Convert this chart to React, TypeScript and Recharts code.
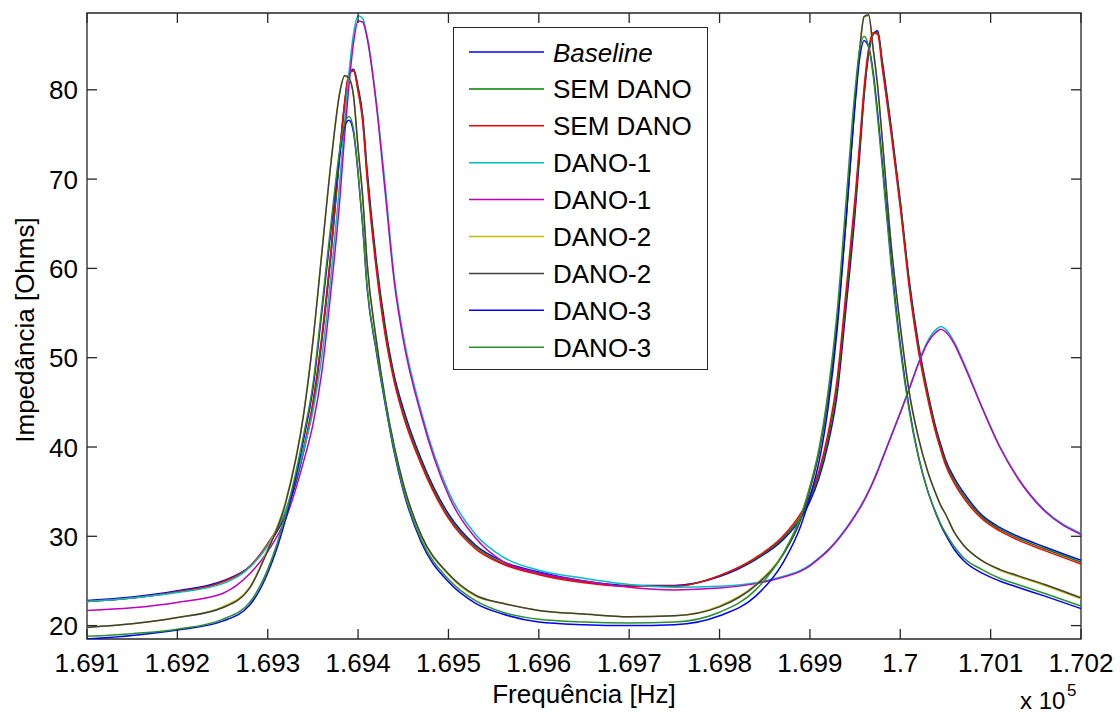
import React from 'react';
import { LineChart, Line, XAxis, YAxis, ReferenceArea, Legend } from 'recharts';

// frequency in units of 1e5 Hz, finer around the two resonances
const FREQ = [
  1.691, 1.6915, 1.692, 1.6925, 1.6928, 1.693, 1.6932, 1.6934, 1.6935, 1.6936,
  1.6937, 1.6938, 1.69385, 1.6939, 1.69395, 1.694, 1.69405, 1.6941, 1.6942, 1.6943,
  1.6944, 1.6945, 1.6947, 1.695, 1.6953, 1.6956, 1.696, 1.6965, 1.697, 1.6975,
  1.698, 1.6984, 1.6987, 1.6989, 1.699, 1.6991, 1.6992, 1.6993, 1.6994, 1.6995,
  1.69955, 1.6996, 1.69965, 1.6997, 1.69975, 1.6998, 1.6999, 1.7, 1.7001, 1.7002,
  1.7003, 1.7004, 1.70045, 1.7005, 1.7006, 1.7007, 1.7009, 1.7011, 1.7013, 1.7016,
  1.702,
];

const BASELINE = [
  22.8, 23.2, 23.9, 25.0, 26.6, 29.0, 32.5, 39.6, 44.6, 52.0,
  61.5, 73.0, 78.2, 81.7, 82.3, 80.3, 77.2, 71.0, 61.0, 53.5,
  48.0, 44.3, 38.6, 32.5, 29.0, 27.2, 26.0, 25.0, 24.5, 24.5,
  25.5, 27.4, 29.6, 32.0, 33.9, 36.5, 40.3, 45.8, 55.6, 66.2,
  72.6, 79.3, 84.0, 86.2, 86.6, 83.3, 75.8, 67.6, 58.6, 51.6,
  46.3, 41.9, 40.2, 38.6, 36.5, 34.9, 32.4, 31.0, 30.0, 28.8,
  27.3,
];
const SEM_DANO_A = [
  22.7, 23.1, 23.8, 24.9, 26.6, 29.1, 32.7, 39.8, 44.8, 52.3,
  61.8, 73.3, 78.4, 81.8, 82.2, 80.0, 76.8, 70.4, 60.5, 53.0,
  47.6, 43.8, 38.3, 32.2, 28.8, 27.0, 25.8, 24.9, 24.4, 24.4,
  25.6, 27.5, 29.8, 32.3, 34.2, 36.9, 40.9, 46.7, 56.6, 67.2,
  73.4, 79.8, 84.3, 86.3, 86.4, 82.9, 75.4, 67.2, 58.2, 51.2,
  46.0, 41.6, 39.9, 38.3, 36.2, 34.6, 32.2, 30.8, 29.8, 28.6,
  27.1,
];
const SEM_DANO_B = [
  22.7, 23.1, 23.8, 24.9, 26.6, 29.2, 32.8, 40.0, 45.0, 52.5,
  62.0, 73.5, 78.5, 81.8, 82.1, 79.8, 76.5, 70.0, 60.0, 52.5,
  47.3, 43.5, 38.0, 32.0, 28.6, 26.9, 25.7, 24.8, 24.4, 24.4,
  25.6, 27.6, 30.0, 32.6, 34.5, 37.3, 41.5, 47.5, 57.5, 68.0,
  74.0, 80.3, 84.6, 86.4, 86.2, 82.5, 75.0, 66.8, 57.8, 50.8,
  45.6, 41.3, 39.6, 38.0, 35.9, 34.3, 32.0, 30.6, 29.6, 28.4,
  26.9,
];
const DANO1_A = [
  22.7, 23.1, 23.7, 24.7, 26.5, 29.0, 33.0, 39.8, 44.0, 50.2,
  59.2, 70.0, 76.3, 82.0, 86.3, 88.3, 88.0, 86.0, 78.8, 69.3,
  59.0, 52.5, 43.9, 35.0, 30.2, 27.7, 26.2, 25.3, 24.6, 24.3,
  24.4, 24.8, 25.5, 26.2, 26.8, 27.6, 28.5, 29.6, 30.9, 32.4,
  33.2, 34.1, 35.1, 36.2, 37.4, 38.7, 41.3, 43.9, 46.6, 49.4,
  51.8, 53.2, 53.5, 53.2, 51.7, 49.5, 44.6, 40.1, 36.6, 32.9,
  30.3,
];
const DANO1_B = [
  21.7, 22.0, 22.6, 23.6, 25.8, 28.3, 32.0, 38.5, 42.5, 48.5,
  57.5, 68.0, 74.8, 80.6, 85.3, 87.7, 87.6, 85.8, 78.5, 68.5,
  58.5, 52.0, 43.5, 34.6, 29.8, 27.2, 25.9, 25.0, 24.3, 24.0,
  24.2, 24.7, 25.4, 26.1, 26.7, 27.5, 28.4, 29.5, 30.8, 32.3,
  33.1, 34.0, 35.0, 36.1, 37.3, 38.6, 41.2, 43.8, 46.5, 49.3,
  51.6, 52.9, 53.2, 52.9, 51.5, 49.3, 44.5, 40.0, 36.5, 32.8,
  30.2,
];
const DANO2_A = [
  19.8, 20.2, 20.9, 22.1, 24.3, 28.6, 34.0, 44.0, 52.0, 62.0,
  72.0, 79.9, 81.5, 81.2, 79.2, 73.3, 68.0, 60.5, 52.0, 45.3,
  40.0, 35.8, 30.0, 25.7, 23.3, 22.5, 21.7, 21.3, 21.0, 21.1,
  22.2, 24.6, 28.0, 32.0, 35.3, 39.5, 45.5, 54.0, 65.5, 79.0,
  84.5, 88.2, 88.3, 84.5, 80.3, 74.5, 62.5, 53.5, 46.0, 41.0,
  37.3, 34.6, 33.4, 32.5, 30.4, 29.0, 27.3, 26.2, 25.5, 24.5,
  23.0,
];
const DANO2_B = [
  19.8, 20.2, 20.9, 22.0, 24.2, 28.4, 33.8, 43.8, 51.8, 61.8,
  71.8, 79.8, 81.6, 81.3, 79.3, 73.5, 68.2, 60.6, 52.1, 45.4,
  40.1, 35.9, 30.1, 25.8, 23.4, 22.5, 21.7, 21.3, 21.0, 21.1,
  22.1, 24.5, 27.9, 31.9, 35.2, 39.3, 45.3, 53.8, 65.3, 78.8,
  84.4, 88.2, 88.4, 84.6, 80.4, 74.6, 62.6, 53.6, 46.1, 41.1,
  37.4, 34.6, 33.4, 32.5, 30.4, 29.0, 27.3, 26.3, 25.6, 24.6,
  23.1,
];
const DANO3_A = [
  18.5, 18.9, 19.5, 20.5, 22.3, 25.9, 32.0, 41.0, 46.5, 55.2,
  64.3, 73.0, 75.9, 76.6, 75.2, 70.6, 64.8, 57.8, 50.8, 44.8,
  39.4, 35.1, 29.3, 24.9, 22.5, 21.3, 20.4, 20.1, 20.0, 20.1,
  21.1, 23.3, 27.0, 31.2, 34.4, 38.3, 44.3, 53.0, 65.5, 78.3,
  83.5, 85.5, 84.8, 82.0, 77.4, 72.0, 60.8, 51.5, 44.3, 39.0,
  35.2, 32.4, 31.2, 30.2, 28.5, 27.3, 25.9, 25.0, 24.3, 23.3,
  21.9,
];
const DANO3_B = [
  18.8, 19.1, 19.6, 20.7, 22.6, 26.3, 32.5, 41.5, 47.0, 55.8,
  65.0, 73.5, 76.2, 77.0, 75.5, 70.8, 65.0, 58.0, 51.0, 45.0,
  39.6, 35.3, 29.6, 25.2, 22.8, 21.5, 20.7, 20.4, 20.3, 20.4,
  21.5, 24.0, 28.0, 32.3, 35.6, 39.8, 46.1, 55.0, 67.5, 80.0,
  84.5, 86.0, 84.8, 81.6, 76.8, 71.4, 60.2, 51.0, 44.0, 38.9,
  35.2, 32.5, 31.3, 30.4, 28.8, 27.6, 26.3, 25.3, 24.6, 23.6,
  22.2,
];

const X_TICKS = [1.691, 1.692, 1.693, 1.694, 1.695, 1.696, 1.697, 1.698, 1.699, 1.7, 1.701, 1.702];
const Y_TICKS = [20, 30, 40, 50, 60, 70, 80];

const SERIES = [
  { key: 'baseline', name: 'Baseline', color: '#0000ff', values: BASELINE, italic: true },
  { key: 'semDanoA', name: 'SEM DANO', color: '#008000', values: SEM_DANO_A },
  { key: 'semDanoB', name: 'SEM DANO', color: '#ff0000', values: SEM_DANO_B },
  { key: 'dano1A', name: 'DANO-1', color: '#00bfbf', values: DANO1_A },
  { key: 'dano1B', name: 'DANO-1', color: '#bf00bf', values: DANO1_B },
  { key: 'dano2A', name: 'DANO-2', color: '#bfbf00', values: DANO2_A },
  { key: 'dano2B', name: 'DANO-2', color: '#404040', values: DANO2_B },
  { key: 'dano3A', name: 'DANO-3', color: '#0000ff', values: DANO3_A },
  { key: 'dano3B', name: 'DANO-3', color: '#2a922a', values: DANO3_B },
];

const data = FREQ.map((f, i) => {
  const row: Record<string, number> = { f };
  SERIES.forEach((s) => {
    row[s.key] = s.values[i];
  });
  return row;
});

const W = 1120;
const H = 715;
const MARGIN = { top: 13, right: 39, left: 27, bottom: 26 };
const Y_AXIS_W = 60;
const X_AXIS_H = 50;
const PLOT_W = W - MARGIN.left - MARGIN.right - Y_AXIS_W;
const PLOT_H = H - MARGIN.top - MARGIN.bottom - X_AXIS_H;

const FONT = '"Liberation Sans", Arial, Helvetica, sans-serif';
const AXIS = '#262626';

const fmt = (v: number) => String(parseFloat(v.toFixed(3)));

function XTick({ x, y, payload }: any) {
  return (
    <g>
      <line x1={x} x2={x} y1={y} y2={y - 10} stroke={AXIS} strokeWidth={1.3} />
      <line x1={x} x2={x} y1={y - PLOT_H} y2={y - PLOT_H + 10} stroke={AXIS} strokeWidth={1.3} />
      <text x={x} y={y + 33} textAnchor="middle" fontSize={26} fontFamily={FONT} fill="#000">
        {fmt(payload.value)}
      </text>
    </g>
  );
}

function YTick({ x, y, payload }: any) {
  return (
    <g>
      <line x1={x} x2={x + 10} y1={y} y2={y} stroke={AXIS} strokeWidth={1.3} />
      <line x1={x + PLOT_W} x2={x + PLOT_W - 10} y1={y} y2={y} stroke={AXIS} strokeWidth={1.3} />
      <text x={x - 9} y={y + 9.5} textAnchor="end" fontSize={26} fontFamily={FONT} fill="#000">
        {payload.value}
      </text>
    </g>
  );
}

function LegendBox() {
  return (
    <div
      style={{
        width: 255,
        height: 343,
        border: `1.3px solid ${AXIS}`,
        background: '#fff',
        boxSizing: 'border-box',
      }}
    >
      <svg width={252} height={340} style={{ display: 'block' }}>
        {SERIES.map((s, i) => {
          const cy = 24 + i * 36.9;
          return (
            <g key={s.key}>
              <line x1={15} x2={90} y1={cy} y2={cy} stroke={s.color} strokeWidth={1.5} />
              <text
                x={99}
                y={cy + 9.5}
                fontSize={26}
                fontFamily={FONT}
                fontStyle={s.italic ? 'italic' : 'normal'}
                fill="#000"
              >
                {s.name}
              </text>
            </g>
          );
        })}
      </svg>
    </div>
  );
}

export default function App() {
  return (
    <div style={{ position: 'absolute', left: 0, top: 0, width: W, height: H, background: '#fff' }}>
      <LineChart width={W} height={H} data={data} margin={MARGIN}>
        <ReferenceArea
          x1={1.691}
          x2={1.702}
          y1={18.5}
          y2={88.6}
          fill="none"
          stroke={AXIS}
          strokeWidth={1.3}
          fillOpacity={0}
        />
        <XAxis
          dataKey="f"
          type="number"
          domain={[1.691, 1.702]}
          ticks={X_TICKS}
          interval={0}
          allowDataOverflow
          height={X_AXIS_H}
          axisLine={false}
          tickLine={false}
          tickSize={0}
          tickMargin={0}
          tick={<XTick />}
          label={{
            content: ({ viewBox }: any) => (
              <g fontFamily={FONT} fill="#000">
                <text x={viewBox.x + viewBox.width / 2} y={viewBox.y + 64} textAnchor="middle" fontSize={26}>
                  Frequência [Hz]
                </text>
                <text x={viewBox.x + viewBox.width - 61} y={viewBox.y + 70} fontSize={24}>
                  x 10
                </text>
                <text x={viewBox.x + viewBox.width - 14} y={viewBox.y + 57} fontSize={17}>
                  5
                </text>
              </g>
            ),
          }}
        />
        <YAxis
          type="number"
          domain={[18.5, 88.6]}
          ticks={Y_TICKS}
          interval={0}
          allowDataOverflow
          width={Y_AXIS_W}
          axisLine={false}
          tickLine={false}
          tickSize={0}
          tickMargin={0}
          tick={<YTick />}
          label={{
            content: ({ viewBox }: any) => {
              const cx = 34;
              const cy = viewBox.y + viewBox.height / 2 + 4;
              return (
                <text
                  x={cx}
                  y={cy}
                  transform={`rotate(-90, ${cx}, ${cy})`}
                  textAnchor="middle"
                  fontSize={26}
                  fontFamily={FONT}
                  fill="#000"
                >
                  Impedância [Ohms]
                </text>
              );
            },
          }}
        />
        {SERIES.map((s) => (
          <Line
            key={s.key}
            type="monotone"
            dataKey={s.key}
            name={s.name}
            stroke={s.color}
            strokeWidth={1.5}
            dot={false}
            activeDot={false}
            isAnimationActive={false}
          />
        ))}
        <Legend
          layout="vertical"
          align="center"
          verticalAlign="middle"
          wrapperStyle={{ left: 453, top: 27, width: 255, height: 343 }}
          content={() => <LegendBox />}
        />
      </LineChart>
    </div>
  );
}
